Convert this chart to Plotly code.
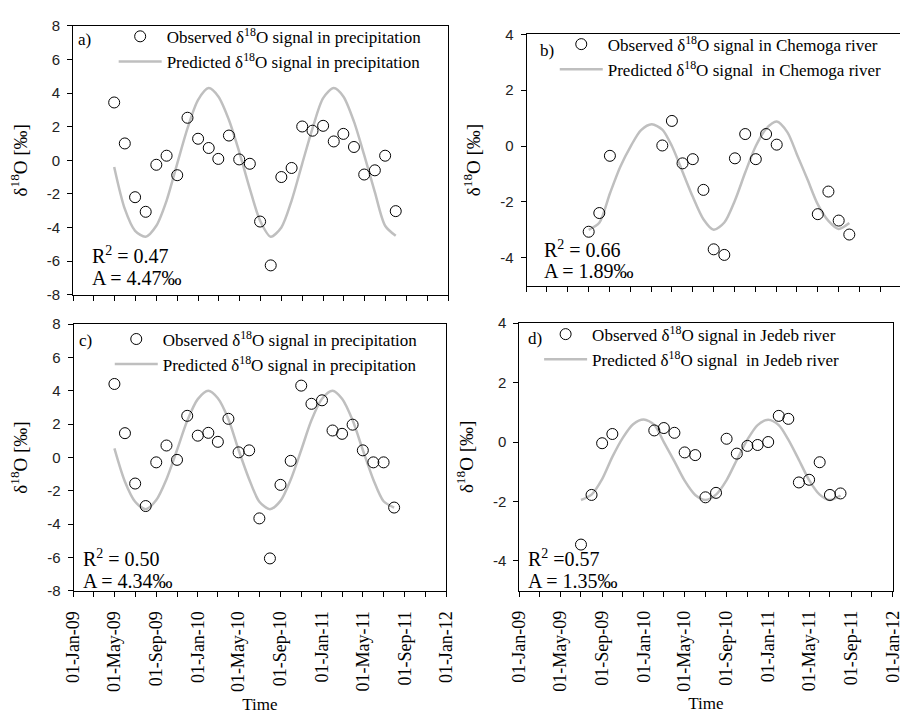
import plotly.graph_objects as go

# ---------------- data ----------------
months_full = ["2009-05-01", "2009-06-01", "2009-07-01", "2009-08-01", "2009-09-01", "2009-10-01",
               "2009-11-01", "2009-12-01", "2010-01-01", "2010-02-01", "2010-03-01", "2010-04-01",
               "2010-05-01", "2010-06-01", "2010-07-01", "2010-08-01", "2010-09-01", "2010-10-01",
               "2010-11-01", "2010-12-01", "2011-01-01", "2011-02-01", "2011-03-01", "2011-04-01",
               "2011-05-01", "2011-06-01", "2011-07-01", "2011-08-01"]

months_river = ["2009-07-01", "2009-08-01", "2009-09-01", "2009-10-01", "2009-11-01", "2009-12-01",
                "2010-01-01", "2010-02-01", "2010-03-01", "2010-04-01", "2010-05-01", "2010-06-01",
                "2010-07-01", "2010-08-01", "2010-09-01", "2010-10-01", "2010-11-01", "2010-12-01",
                "2011-01-01", "2011-02-01", "2011-03-01", "2011-04-01", "2011-05-01", "2011-06-01",
                "2011-07-01", "2011-08-01"]

# a) precipitation
obs_a = [3.44, 1.0, -2.2, -3.07, -0.27, 0.27, -0.89, 2.53, 1.28, 0.73, 0.08, 1.47, 0.05, -0.21,
         -3.65, -6.26, -1.0, -0.46, 2.01, 1.76, 2.05, 1.12, 1.57, 0.79, -0.85, -0.6, 0.27, -3.03]
pred_a = [-0.4, -2.9, -4.2, -4.55, -3.9, -2.4, -0.2, 1.9, 3.6, 4.3, 3.8, 2.4, 0.5, -1.7,
          -3.6, -4.55, -4.0, -2.4, -0.2, 1.9, 3.7, 4.3, 3.8, 2.3, 0.3, -1.9, -3.9, -4.5]

# b) Chemoga river
dates_obs_b = ["2009-07-01", "2009-08-01", "2009-09-01",
               "2010-02-01", "2010-03-01", "2010-04-01", "2010-05-01", "2010-06-01", "2010-07-01",
               "2010-08-01", "2010-09-01", "2010-10-01", "2010-11-01", "2010-12-01", "2011-01-01",
               "2011-05-01", "2011-06-01", "2011-07-01", "2011-08-01"]
obs_b = [-3.07, -2.40, -0.35, 0.02, 0.9, -0.62, -0.47, -1.57, -3.70, -3.90, -0.44, 0.43,
         -0.47, 0.43, 0.05, -2.44, -1.63, -2.67, -3.17]
pred_b = [-3.0, -2.75, -1.7, -0.75, 0.0, 0.57, 0.78, 0.59, 0.0, -0.92, -1.82, -2.62, -3.0,
          -2.74, -1.95, -0.95, 0.0, 0.62, 0.88, 0.5, -0.3, -1.2, -2.09, -2.68, -2.97, -2.76]

# c) precipitation
obs_c = [4.41, 1.46, -1.56, -2.91, -0.29, 0.72, -0.14, 2.5, 1.31, 1.48, 0.94, 2.32, 0.31, 0.43,
         -3.65, -6.05, -1.64, -0.2, 4.31, 3.22, 3.43, 1.62, 1.42, 1.97, 0.43, -0.29, -0.29, -3.0]
pred_c = [0.55, -1.45, -2.65, -3.1, -2.55, -1.3, 0.45, 2.2, 3.5, 4.0, 3.55, 2.3, 0.45, -1.3,
          -2.65, -3.1, -2.6, -1.33, 0.45, 2.23, 3.52, 4.0, 3.52, 2.23, 0.45, -1.33, -2.62, -3.0]

# d) Jedeb river
dates_obs_d = ["2009-07-01", "2009-08-01", "2009-09-01", "2009-10-01",
               "2010-02-01", "2010-03-01", "2010-04-01", "2010-05-01", "2010-06-01", "2010-07-01",
               "2010-08-01", "2010-09-01", "2010-10-01", "2010-11-01", "2010-12-01", "2011-01-01",
               "2011-02-01", "2011-03-01", "2011-04-01", "2011-05-01", "2011-06-01", "2011-07-01",
               "2011-08-01"]
obs_d = [-3.45, -1.78, -0.04, 0.27, 0.39, 0.47, 0.31, -0.35, -0.44, -1.86, -1.71, 0.11, -0.39,
         -0.13, -0.1, 0.0, 0.88, 0.78, -1.36, -1.27, -0.68, -1.78, -1.73]
pred_d = [-1.95, -1.77, -1.25, -0.5, 0.15, 0.6, 0.76, 0.58, 0.0, -0.65, -1.3, -1.78, -1.95,
          -1.77, -1.28, -0.6, 0.08, 0.57, 0.75, 0.57, 0.08, -0.6, -1.28, -1.77, -1.95, -1.8]

stats_r2 = ["R<sup>2</sup> = 0.47", "R<sup>2</sup> = 0.66", "R<sup>2</sup> = 0.50", "R<sup>2</sup> =0.57"]
stats_amp = ["A = 4.47‰", "A = 1.89‰", "A = 4.34‰", "A = 1.35‰"]
panel_tags = ["a)", "b)", "c)", "d)"]
obs_names = ["Observed δ<sup>18</sup>O signal in precipitation",
             "Observed δ<sup>18</sup>O signal in Chemoga river",
             "Observed δ<sup>18</sup>O signal in precipitation",
             "Observed δ<sup>18</sup>O signal in Jedeb river"]
pred_names = ["Predicted δ<sup>18</sup>O signal in precipitation",
              "Predicted δ<sup>18</sup>O signal  in Chemoga river",
              "Predicted δ<sup>18</sup>O signal in precipitation",
              "Predicted δ<sup>18</sup>O signal  in Jedeb river"]

y_ticks_prec = [-8, -6, -4, -2, 0, 2, 4, 6, 8]
y_ticks_riv = [-4, -2, 0, 2, 4]

# ---------------- figure ----------------
W, H = 910, 721
SERIF = "Liberation Serif"
SANS = "Liberation Sans"

def px(x):
    return x / W

def py(y):
    return 1 - y / H

fig = go.Figure()

series = [
    (months_full, obs_a, months_full, pred_a),
    (dates_obs_b, obs_b, months_river, pred_b),
    (months_full, obs_c, months_full, pred_c),
    (dates_obs_d, obs_d, months_river, pred_d),
]
legend_ids = ["legend", "legend2", "legend3", "legend4"]

for i, (xo, yo, xp, yp) in enumerate(series):
    ax = "" if i == 0 else str(i + 1)
    fig.add_trace(go.Scatter(
        x=xp, y=yp, mode="lines", name=pred_names[i],
        line=dict(color="#bfbfbf", width=2.5, shape="spline", smoothing=0.8),
        xaxis="x" + ax, yaxis="y" + ax, legend=legend_ids[i],
        legendrank=2, legendgroup="p%d" % i,
    ))
    fig.add_trace(go.Scatter(
        x=xo, y=yo, mode="markers", name=obs_names[i],
        marker=dict(symbol="circle-open", size=11, color="black", line=dict(width=1)),
        xaxis="x" + ax, yaxis="y" + ax, legend=legend_ids[i],
        legendrank=1, legendgroup="o%d" % i,
    ))

# domains (pixel positions measured on the reference)
dom = {
    1: dict(x=(64.5, 448.0), y=(17.3, 292.5)),
    2: dict(x=(528.3, 910.0), y=(26.0, 283.3)),
    3: dict(x=(65.0, 446.0), y=(322.7, 596.0)),
    4: dict(x=(520.7, 902.5), y=(321.7, 595.7)),
}
x_end = {1: "2012-01-01", 2: "2011-12-27", 3: "2012-01-01", 4: "2012-01-01"}
y_rng = {1: [-8, 8], 2: [-5, 4], 3: [-8, 8], 4: [-5, 4]}
y_tv = {1: y_ticks_prec, 2: y_ticks_riv, 3: y_ticks_prec, 4: y_ticks_riv}

layout = dict(
    width=W, height=H, margin=dict(l=0, r=0, t=0, b=0),
    paper_bgcolor="white", plot_bgcolor="white", showlegend=True,
    font=dict(family=SERIF, color="black"),
)

for k in range(1, 5):
    xa = "xaxis" if k == 1 else "xaxis%d" % k
    ya = "yaxis" if k == 1 else "yaxis%d" % k
    d = dom[k]
    bottom = k >= 3
    layout[xa] = dict(
        type="date", domain=[px(d["x"][0]), px(d["x"][1])],
        range=["2009-01-01", x_end[k]], anchor="y" if k == 1 else "y%d" % k,
        tick0="2009-01-01", dtick="M4", tickformat="%d-%b-%y", tickangle=-90,
        ticks="outside", ticklen=5, tickcolor="black", tickwidth=1,
        minor=dict(dtick="M2", tick0="2009-01-01", ticks="outside", ticklen=5,
                   tickcolor="black", showgrid=False),
        showline=True, linecolor="black", linewidth=1, mirror=True,
        showgrid=False, zeroline=False, showticklabels=bottom,
        ticklabelstandoff=7,
        tickfont=dict(family=SERIF, size=18, color="black"),
        title=dict(text="Time" if bottom else "", font=dict(family=SERIF, size=17, color="black"),
                   standoff=6),
    )
    layout[ya] = dict(
        domain=[py(d["y"][1]), py(d["y"][0])], range=y_rng[k],
        anchor="x" if k == 1 else "x%d" % k,
        tickvals=y_tv[k], ticktext=[str(v) for v in y_tv[k]],
        ticks="outside", ticklen=5, tickcolor="black", tickwidth=1,
        showline=True, linecolor="black", linewidth=1, mirror=(k != 2),
        showgrid=False, zeroline=False, ticklabelstandoff=4,
        tickfont=dict(family=SANS, size=15, color="#222222"),
        title=dict(text="δ<sup>18</sup>O [‰]", font=dict(family=SERIF, size=19, color="black"),
                   standoff=14),
    )

# legends positions: (left of symbol zone, top)
leg_pos = {1: (106, 10), 2: (557, 18), 3: (102, 320), 4: (541, 315)}
for k in range(1, 5):
    lid = legend_ids[k - 1]
    lx, ly = leg_pos[k]
    layout[lid] = dict(
        x=px(lx), y=py(ly), xref="paper", yref="paper", xanchor="left", yanchor="top",
        bgcolor="rgba(0,0,0,0)", borderwidth=0, itemwidth=43, tracegroupgap=10,
        font=dict(family=SERIF, size=17, color="black"), traceorder="normal",
    )

annots = []
tag_pos = {1: (67, 31), 2: (540, 42), 3: (68, 339), 4: (528, 337)}
r2_pos = {1: (82, 252, 276), 2: (544, 246, 268), 3: (73, 562, 586), 4: (528, 562, 586)}
for k in range(1, 5):
    tx, ty = tag_pos[k]
    annots.append(dict(text=panel_tags[k - 1], x=px(tx), y=py(ty), xref="paper", yref="paper",
                       xanchor="left", yanchor="middle", showarrow=False,
                       font=dict(family=SERIF, size=17, color="black")))
    rx, ry1, ry2 = r2_pos[k]
    annots.append(dict(text=stats_r2[k - 1], x=px(rx), y=py(ry1), xref="paper", yref="paper",
                       xanchor="left", yanchor="middle", showarrow=False,
                       font=dict(family=SERIF, size=20, color="black")))
    annots.append(dict(text=stats_amp[k - 1], x=px(rx), y=py(ry2), xref="paper", yref="paper",
                       xanchor="left", yanchor="middle", showarrow=False,
                       font=dict(family=SERIF, size=20, color="black")))
layout["annotations"] = annots

fig.update_layout(**layout)
fig.write_html("out.html")
